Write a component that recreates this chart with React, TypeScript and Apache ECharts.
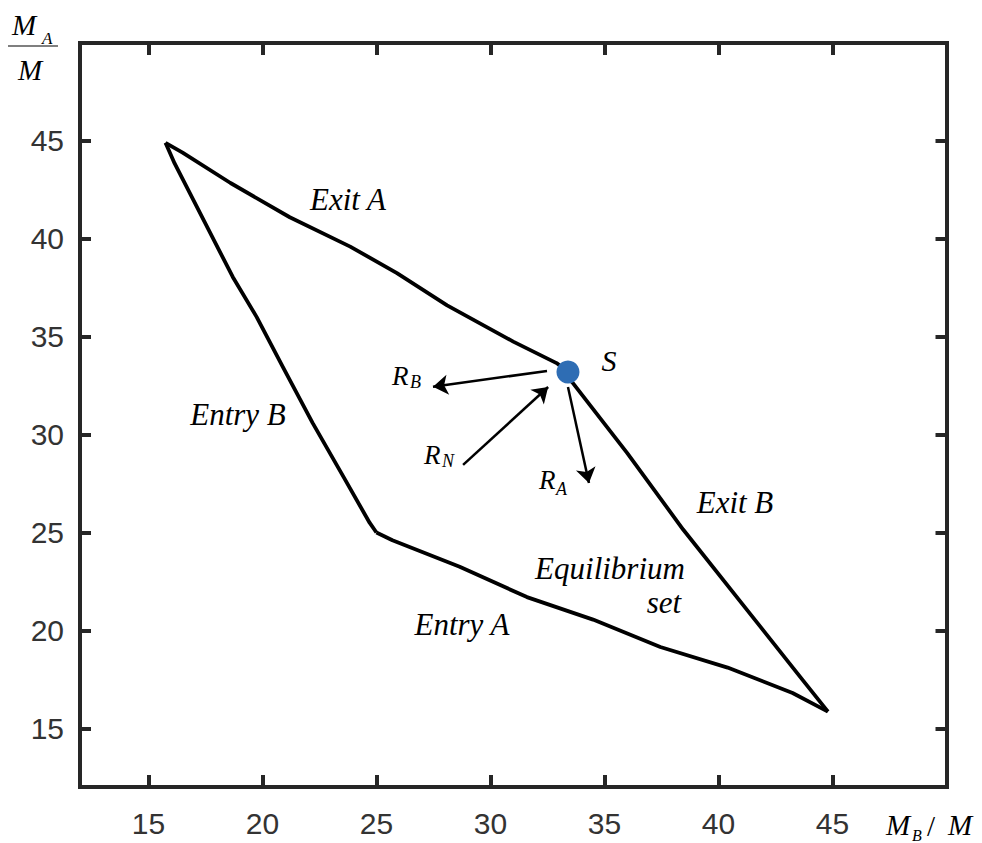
import React, { useEffect, useRef } from "react";
import * as echarts from "echarts";

// Axis ranges and tick labels
const X_MIN = 12;
const X_MAX = 50;
const Y_MIN = 12;
const Y_MAX = 50;
const xTicks = [15, 20, 25, 30, 35, 40, 45];
const yTicks = [15, 20, 25, 30, 35, 40, 45];

// Boundary curves of the equilibrium set  [M_B/M, M_A/M]
const exitA = [
  [15.75, 44.9], [16.5, 44.4], [18.6, 42.85], [21.2, 41.1], [23.85, 39.6],
  [25.9, 38.25], [28.1, 36.6], [31.0, 34.75], [32.9, 33.65], [33.4, 33.2],
];
const exitB = [
  [33.4, 33.2], [33.6, 32.65], [36.0, 29.05], [38.45, 25.15], [41.25, 21.05],
  [43.6, 17.6], [44.8, 15.85],
];
const entryB = [
  [15.75, 44.9], [16.15, 43.85], [18.7, 38.05], [19.75, 36.0], [20.9, 33.45],
  [22.2, 30.6], [23.55, 27.85], [24.7, 25.5], [25.0, 25.0],
];
const entryA = [
  [25.0, 25.0], [25.7, 24.6], [28.65, 23.25], [31.6, 21.7], [34.5, 20.55],
  [37.45, 19.15], [40.4, 18.1], [43.25, 16.8], [44.8, 15.85],
];

// Point S
const pointS = [33.4, 33.2];

// Arrows R_B, R_N, R_A: [from, to]
const arrowRB = [[32.48, 33.25], [27.48, 32.44]];
const arrowRN = [[28.8, 28.45], [32.53, 32.43]];
const arrowRA = [[33.4, 32.43], [34.32, 27.53]];

const AXIS = "#262626";
const SERIF = "Liberation Serif, Times New Roman, DejaVu Serif, serif";
const SANS = "Liberation Sans, Arial, Helvetica, sans-serif";

function txt(text: string, x: number, y: number, size: number, align = "left", italic = true) {
  return {
    type: "text",
    x,
    y,
    silent: true,
    z: 10,
    style: {
      text,
      fill: "#000",
      fontFamily: SERIF,
      fontSize: size,
      fontStyle: italic ? "italic" : "normal",
      align,
      verticalAlign: "middle",
      textAlign: align,
      textVerticalAlign: "middle",
    },
  };
}

export default function App() {
  const ref = useRef<HTMLDivElement>(null);
  useEffect(() => {
    document.body.style.margin = "0";
    const chart = echarts.init(ref.current!, null, { renderer: "svg" });

    const lineSeries = (name: string, data: number[][]) => ({
      name,
      type: "line",
      data,
      showSymbol: false,
      symbol: "none",
      silent: true,
      lineStyle: { color: "#000", width: 3.8, join: "round" },
      z: 3,
    });

    const axisCommon = {
      type: "value",
      axisLine: { show: true, onZero: false, lineStyle: { color: AXIS, width: 4, cap: "square" } },
      splitLine: { show: false },
    };

    chart.setOption({
      animation: false,
      grid: { left: 80, right: 35.5, top: 43, bottom: 56 },
      xAxis: [
        {
          ...axisCommon,
          min: X_MIN,
          max: X_MAX,
          position: "bottom",
          axisTick: { show: true, inside: true, length: 12, customValues: xTicks, lineStyle: { color: AXIS, width: 4 } },
          axisLabel: { show: true, customValues: xTicks, margin: 21, color: "#333", fontSize: 30, fontFamily: SANS },
        },
        {
          ...axisCommon,
          min: X_MIN,
          max: X_MAX,
          position: "top",
          axisTick: { show: true, inside: true, length: 12, customValues: xTicks, lineStyle: { color: AXIS, width: 4 } },
          axisLabel: { show: false },
        },
      ],
      yAxis: [
        {
          ...axisCommon,
          min: Y_MIN,
          max: Y_MAX,
          position: "left",
          axisTick: { show: true, inside: true, length: 11, customValues: yTicks, lineStyle: { color: AXIS, width: 4 } },
          axisLabel: { show: true, customValues: yTicks, margin: 16, color: "#333", fontSize: 30, fontFamily: SANS },
        },
        {
          ...axisCommon,
          min: Y_MIN,
          max: Y_MAX,
          position: "right",
          axisTick: { show: true, inside: true, length: 11, customValues: yTicks, lineStyle: { color: AXIS, width: 4 } },
          axisLabel: { show: false },
        },
      ],
      series: [
        lineSeries("Exit A", exitA),
        lineSeries("Exit B", exitB),
        lineSeries("Entry B", entryB),
        lineSeries("Entry A", entryA),
        {
          name: "arrows",
          type: "lines",
          coordinateSystem: "cartesian2d",
          xAxisIndex: 0,
          yAxisIndex: 0,
          silent: true,
          symbol: ["none", "arrow"],
          symbolSize: 15,
          lineStyle: { color: "#000", width: 2.5, opacity: 1, curveness: 0 },
          data: [{ coords: arrowRB }, { coords: arrowRN }, { coords: arrowRA }],
          z: 4,
        },
        {
          name: "S",
          type: "scatter",
          data: [pointS],
          symbol: "circle",
          symbolSize: 23,
          silent: true,
          itemStyle: { color: "#2e6db4", opacity: 1 },
          z: 6,
        },
      ],
      graphic: [
        // y-axis title: M_A / M (fraction)
        txt("M", 12, 25, 29),
        txt("A", 42, 38, 17),
        { type: "line", shape: { x1: 8, y1: 46, x2: 58, y2: 46 }, style: { stroke: "#000", lineWidth: 1.2 }, silent: true },
        txt("M", 18, 70, 29),
        // x-axis title: M_B / M
        txt("M", 886, 825, 29),
        txt("B", 912, 835, 16),
        txt("/", 927, 826, 29, "left", false),
        txt("M", 948, 825, 29),
        // curve annotations
        txt("Exit A", 348, 199, 31, "center"),
        txt("Entry B", 238, 414, 31, "center"),
        txt("Exit B", 735, 502, 31, "center"),
        txt("Equilibrium", 610, 568, 31, "center"),
        txt("set", 664, 602, 31, "center"),
        txt("Entry A", 462, 624, 31, "center"),
        txt("S", 609, 360, 30, "center"),
        // arrow labels
        txt("R", 392, 376, 27),
        txt("B", 410, 382, 18),
        txt("R", 424, 455, 27),
        txt("N", 442, 461, 18),
        txt("R", 539, 480, 27),
        txt("A", 556, 489, 18),
      ],
    });
    return () => chart.dispose();
  }, []);
  return <div ref={ref} style={{ position: "absolute", left: 0, top: 0, width: 982, height: 843 }} />;
}
